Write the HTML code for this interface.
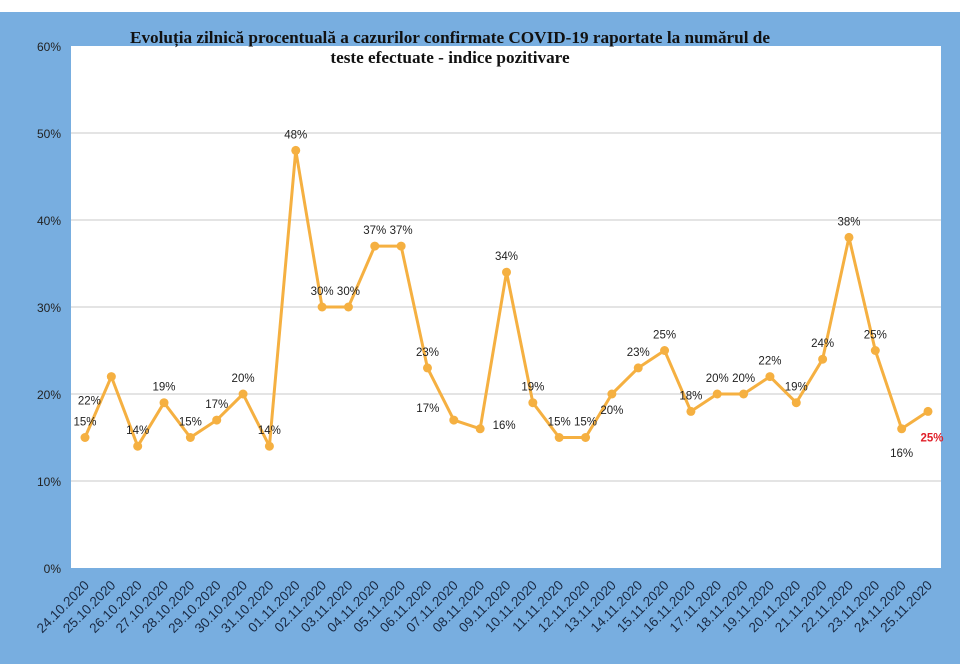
<!DOCTYPE html>
<html><head><meta charset="utf-8"><style>
body{margin:0;width:960px;height:664px;overflow:hidden;background:#fff}
svg{display:block}
</style></head><body>
<svg width="960" height="664" id="c">
<rect x="0" y="12" width="960" height="652" fill="#78aee0"/>
<rect x="71" y="46" width="870" height="522" fill="#fff"/>
<g id="grid"></g><g id="yt"></g><g id="xt"></g><g id="ser"></g><g id="lab"></g>
<text x="450" y="43" text-anchor="middle" font-family="Liberation Serif,serif" font-weight="bold" font-size="17.2" fill="#111">Evoluția zilnică procentuală a cazurilor confirmate COVID-19 raportate la numărul de</text>
<text x="450" y="63" text-anchor="middle" font-family="Liberation Serif,serif" font-weight="bold" font-size="17.2" fill="#111">teste efectuate - indice pozitivare</text>
</svg>
<script>
const categories=["24.10.2020","25.10.2020","26.10.2020","27.10.2020","28.10.2020","29.10.2020","30.10.2020","31.10.2020","01.11.2020","02.11.2020","03.11.2020","04.11.2020","05.11.2020","06.11.2020","07.11.2020","08.11.2020","09.11.2020","10.11.2020","11.11.2020","12.11.2020","13.11.2020","14.11.2020","15.11.2020","16.11.2020","17.11.2020","18.11.2020","19.11.2020","20.11.2020","21.11.2020","22.11.2020","23.11.2020","24.11.2020","25.11.2020"];
const values=[15,22,14,19,15,17,20,14,48,30,30,37,37,23,17,16,34,19,15,15,20,23,25,18,20,20,22,19,24,38,25,16,18];
const labels=["15%","22%","14%","19%","15%","17%","20%","14%","48%","30%","30%","37%","37%","23%","17%","16%","34%","19%","15%","15%","20%","23%","25%","18%","20%","20%","22%","19%","24%","38%","25%","16%","25%"];
const yTicks=[0,10,20,30,40,50,60];
const NS="http://www.w3.org/2000/svg";
const x0=85,x1=928,yb=568,yt=46;
const X=i=>x0+i*(x1-x0)/(categories.length-1);
const Y=v=>yb-(v/60)*(yb-yt);
function mk(t,a,p){const e=document.createElementNS(NS,t);for(const k in a)e.setAttribute(k,a[k]);document.getElementById(p).appendChild(e);return e;}
yTicks.forEach(v=>{
 if(v>0&&v<60){const l=mk('line',{x1:71,x2:941,y1:Y(v),y2:Y(v),stroke:'#c8c8c8','stroke-width':1},'grid');
 
 }
 const t=mk('text',{x:61,y:Y(v)+5,'text-anchor':'end','font-family':'Liberation Sans,sans-serif','font-size':12,fill:'#222'},'yt');
 t.textContent=v+'%';
 
 
});
categories.forEach((c,i)=>{
 const ax=X(i)+5,ay=586;
 const t=mk('text',{x:ax,y:ay,'text-anchor':'end','font-family':'Liberation Sans,sans-serif','font-size':13.5,fill:'#1a2a44',transform:`rotate(-45 ${ax} ${ay})`},'xt');
 t.textContent=c;
 
 
});
const pl=mk('polyline',{points:values.map((v,i)=>X(i)+','+Y(v)).join(' '),fill:'none',stroke:'#f5b041','stroke-width':3,'stroke-linejoin':'round'},'ser');


const off={1:[-22,24],14:[-26,-12],15:[24,-4],20:[0,16],31:[0,24],32:[4,26]};
values.forEach((v,i)=>{
 const m=mk('circle',{cx:X(i),cy:Y(v),r:4.5,fill:'#f5b041'},'ser');
 
 
 const o=off[i]||[0,-16];
 const red=i===categories.length-1;
 const t=mk('text',{x:X(i)+o[0],y:Y(v)+o[1]+4,'text-anchor':'middle','font-family':'Liberation Sans,sans-serif','font-size':11.5,'font-weight':red?'bold':'normal',fill:red?'#e0202a':'#222'},'lab');
 t.textContent=labels[i];
 
 
});
</script>
</body></html>
